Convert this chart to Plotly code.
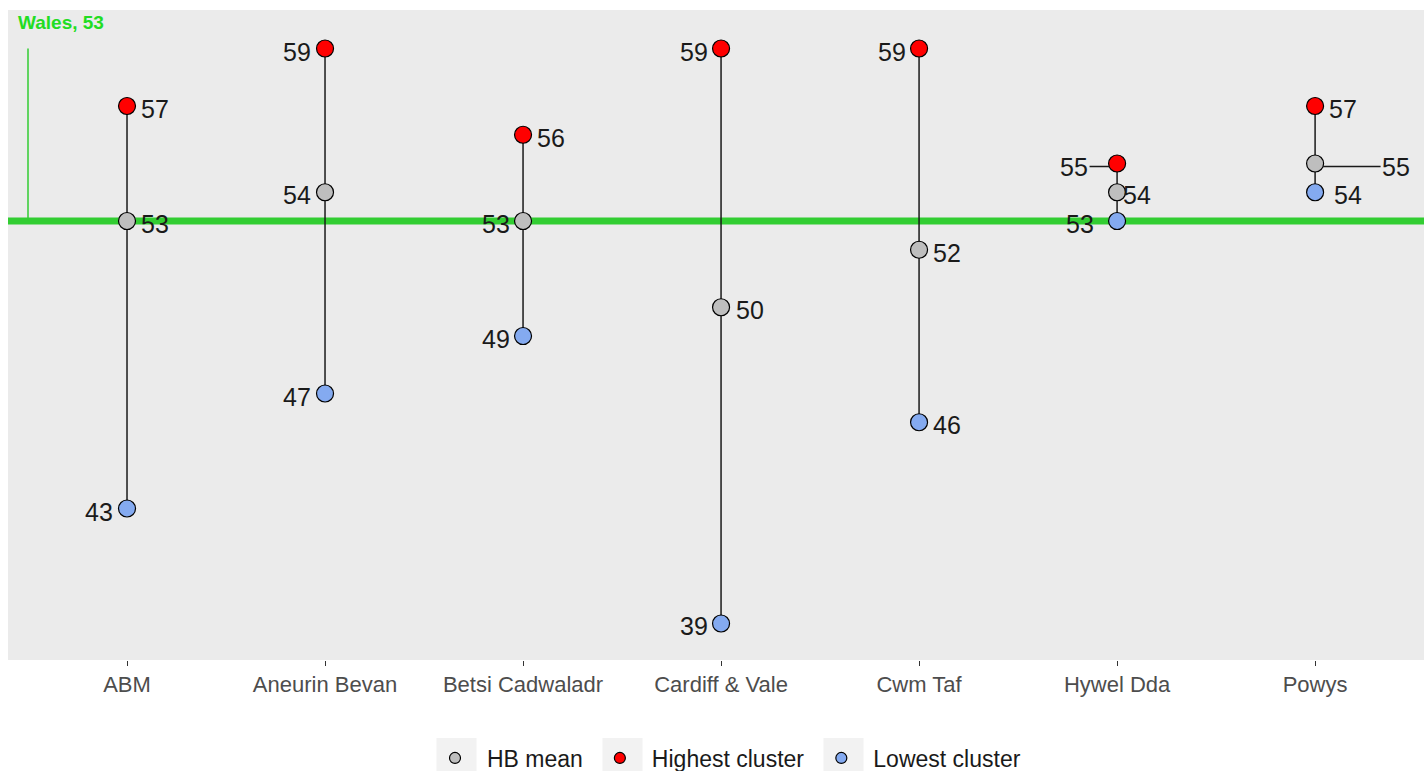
import plotly.graph_objects as go

boards = ["ABM", "Aneurin Bevan", "Betsi Cadwaladr", "Cardiff & Vale", "Cwm Taf", "Hywel Dda", "Powys"]
hb_mean = [53, 54, 53, 50, 52, 54, 55]
highest = [57, 59, 56, 59, 59, 55, 57]
lowest = [43, 47, 49, 39, 46, 53, 54]
wales_value = 53
wales_label = "Wales, 53"

# label placement offsets (pixels, relative to the point), like ggrepel output
dx_high = [28, -28, 28, -27, -27, -43, 28]
dx_mean = [28, -28, -27, 29, 28, 20, 81]
dx_low = [-28, -28, -27, -27, 28, -37, 33]
arrow_high = [False, False, False, False, False, True, False]
arrow_mean = [False, False, False, False, False, False, True]
arrow_low = [False] * 7

xi = list(range(len(boards)))
C_MEAN, C_HIGH, C_LOW = "#BEBEBE", "#FF0000", "#84AAF0"
GREEN = "#32CD32"
FONT = "Liberation Sans, Arial, sans-serif"

# figure is a little taller than the window: the legend keys are cut by the bottom edge
W, H = 1424, 790
ML, MT, PH = 8, 10, 650
MB = H - MT - PH
PW = W - ML

fig = go.Figure()

# Wales reference line
fig.add_trace(go.Scatter(x=[-0.601, 6.55], y=[wales_value, wales_value], mode="lines",
                         line=dict(color=GREEN, width=7), showlegend=False, hoverinfo="skip"))
fig.add_trace(go.Scatter(x=[-0.5, -0.5], y=[max(highest), wales_value], mode="lines",
                         line=dict(color=GREEN, width=1.5), showlegend=False, hoverinfo="skip"))

# segments spanning the three values of each board
sx, sy = [], []
for i in xi:
    vals = [hb_mean[i], highest[i], lowest[i]]
    sx += [i, i, None]
    sy += [min(vals), max(vals), None]
fig.add_trace(go.Scatter(x=sx, y=sy, mode="lines", line=dict(color="#1a1a1a", width=1.5),
                         showlegend=False, hoverinfo="skip"))

mk_line = dict(color="#000000", width=1.2)
for name, vals, col in [("HB mean", hb_mean, C_MEAN), ("Highest cluster", highest, C_HIGH),
                        ("Lowest cluster", lowest, C_LOW)]:
    fig.add_trace(go.Scatter(x=xi, y=vals, mode="markers", name=name,
                             marker=dict(size=17, color=col, line=mk_line), showlegend=False))
    fig.add_trace(go.Scatter(x=[None], y=[None], mode="markers", name=name,
                             marker=dict(size=11, color=col, line=mk_line), showlegend=True))

annotations = []
for vals, dxs, arrows in [(highest, dx_high, arrow_high), (hb_mean, dx_mean, arrow_mean),
                          (lowest, dx_low, arrow_low)]:
    for i in xi:
        if arrows[i]:
            annotations.append(dict(x=i, y=vals[i], text=str(vals[i]), showarrow=True,
                                    ax=dxs[i], ay=0, yshift=-3, arrowhead=0, arrowwidth=1.5,
                                    arrowcolor="#1a1a1a", standoff=8,
                                    font=dict(family=FONT, size=25, color="#1a1a1a")))
        else:
            annotations.append(dict(x=i, y=vals[i], text=str(vals[i]), showarrow=False,
                                    xshift=dxs[i], yshift=-3,
                                    font=dict(family=FONT, size=25, color="#1a1a1a")))

annotations.append(dict(x=-0.5, y=59.9, text="<b>" + wales_label + "</b>", showarrow=False,
                        xanchor="left", xshift=-12,
                        font=dict(family=FONT, size=19, color="#22DD22")))

# light grey legend key backgrounds (ggplot legend.key)
shapes = []
for mx in [454.5, 620.5, 841.5]:
    shapes.append(dict(type="rect", xref="paper", yref="paper",
                       x0=(mx - 18 - ML) / PW, x1=(mx + 22 - ML) / PW,
                       y0=(MT + PH - 780) / PH, y1=(MT + PH - 738) / PH,
                       fillcolor="#F2F2F2", line=dict(width=0), layer="below"))

fig.update_layout(
    width=W, height=H,
    margin=dict(l=ML, r=0, t=MT, b=MB),
    paper_bgcolor="white", plot_bgcolor="#EBEBEB",
    annotations=annotations, shapes=shapes,
    showlegend=True,
    legend=dict(orientation="h", x=0.506, xanchor="center", y=(MT + PH - 758) / PH, yanchor="middle",
                font=dict(family=FONT, size=23, color="#1a1a1a"), bgcolor="rgba(0,0,0,0)",
                itemwidth=54, itemsizing="trace"),
    font=dict(family=FONT),
)
fig.update_xaxes(range=[-0.601, 6.55], tickmode="array", tickvals=xi, ticktext=boards,
                 showgrid=False, zeroline=False, ticks="outside", ticklen=5, tickcolor="#333333",
                 tickfont=dict(family=FONT, size=22, color="#4D4D4D"), showline=False)
fig.update_yaxes(range=[37.73, 60.34], showgrid=False, zeroline=False, showticklabels=False,
                 ticks="")

fig.write_html("out.html", config={"displayModeBar": False},
               post_script="document.body.style.margin='0';document.body.style.overflow='hidden';")
